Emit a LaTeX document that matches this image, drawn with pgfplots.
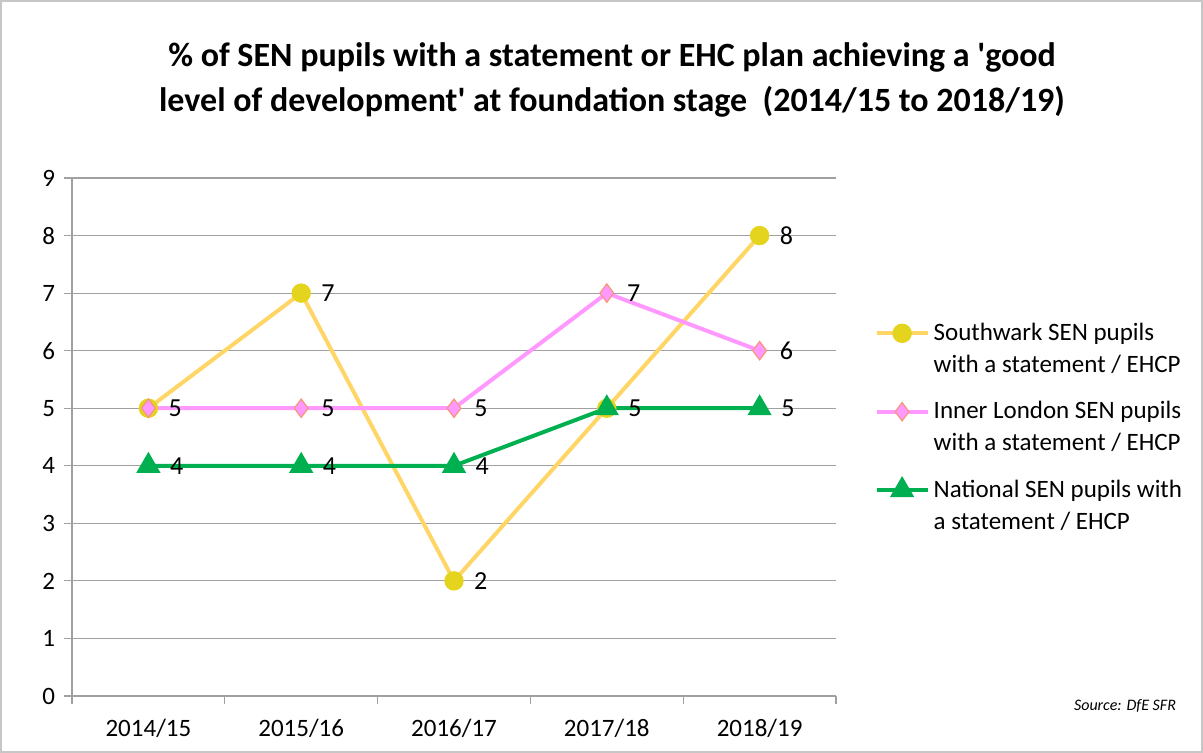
\documentclass[border=0pt]{standalone}
\usepackage{fontspec}
\setmainfont{Carlito}
\usepackage{pgfplots}
\pgfplotsset{compat=1.18}
\definecolor{swline}{RGB}{255,214,102}
\definecolor{swmark}{RGB}{228,212,30}
\definecolor{illine}{RGB}{255,153,255}
\definecolor{ilborder}{RGB}{245,150,120}
\definecolor{natgreen}{RGB}{0,176,80}
\definecolor{gridgray}{RGB}{160,160,160}
\begin{document}
\begin{tikzpicture}[x=1pt,y=1pt]
\path[use as bounding box] (0,0) rectangle (601.5,376.5);
\draw[gray!45, line width=0.75pt] (0.5,0.5) rectangle (601,376);
\node[font=\fontsize{17}{22.5}\selectfont\bfseries, align=center] at (306,336.75)
 {\% of SEN pupils with a statement or EHC plan achieving a \textquotesingle good\\level of development\textquotesingle\ at foundation stage~~(2014/15 to 2018/19)};
\node[font=\fontsize{8}{10}\selectfont\itshape] at (562.5,23.5) {Source: DfE SFR};
\begin{axis}[
 at={(36pt,28.5pt)}, anchor=south west,
 scale only axis, width=382pt, height=259pt,
 xmin=-0.5, xmax=4.5, ymin=0, ymax=9,
 xtick={-0.5,0.5,1.5,2.5,3.5,4.5},
 xticklabels={2014/15,2015/16,2016/17,2017/18,2018/19,{}},
 x tick label style={xshift=38.2pt, yshift=-4pt},
 y tick label style={xshift=-1pt},
 ytick={0,...,9},
 tick align=outside, major tick length=4pt,
 tick style={gridgray, line width=0.6pt},
 ymajorgrids, grid style={gridgray, line width=0.6pt},
 axis x line*=bottom, axis y line*=left,
 axis line style={gridgray, line width=0.6pt, -},
 tick label style={font=\fontsize{12.5}{15}\selectfont, text=black},
 /pgf/number format/assume math mode=true,
 legend style={at={(1.042,0.518)}, anchor=west, draw=none, fill=none,
   font=\fontsize{12.5}{16}\selectfont, row sep=9pt, cells={align=left}},
 legend cell align=left,
 legend image code/.code={\draw[mark repeat=2,mark phase=2] plot coordinates {(0cm,8pt) (0.45cm,8pt) (0.9cm,8pt)};},
 point meta=explicit symbolic,
 nodes near coords,
 nodes near coords style={anchor=west, xshift=6.5pt, font=\fontsize{13}{15}\selectfont, text=black},
]
\addplot[swline, line width=2pt, mark=*, mark size=4.6pt, mark options={fill=swmark, draw=swmark, line width=0.5pt}]
 coordinates {(0,5) [{}] (1,7) [7] (2,2) [2] (3,5) [{}] (4,8) [8]};
\addlegendentry{Southwark SEN pupils\\with a statement / EHCP}
\addplot[illine, line width=2pt, mark=diamond*, mark size=4.6pt, mark options={fill=illine, draw=ilborder, line width=0.6pt}]
 coordinates {(0,5) [5] (1,5) [5] (2,5) [5] (3,7) [7] (4,6) [6]};
\addlegendentry{Inner London SEN pupils\\with a statement / EHCP}
\addplot[natgreen, line width=2pt, mark=triangle*, mark size=5pt, mark options={fill=natgreen, draw=natgreen}]
 coordinates {(0,4) [4] (1,4) [4] (2,4) [4] (3,5) [5] (4,5) [5]};
\addlegendentry{National SEN pupils with\\a statement / EHCP}
\end{axis}
\end{tikzpicture}
\end{document}
